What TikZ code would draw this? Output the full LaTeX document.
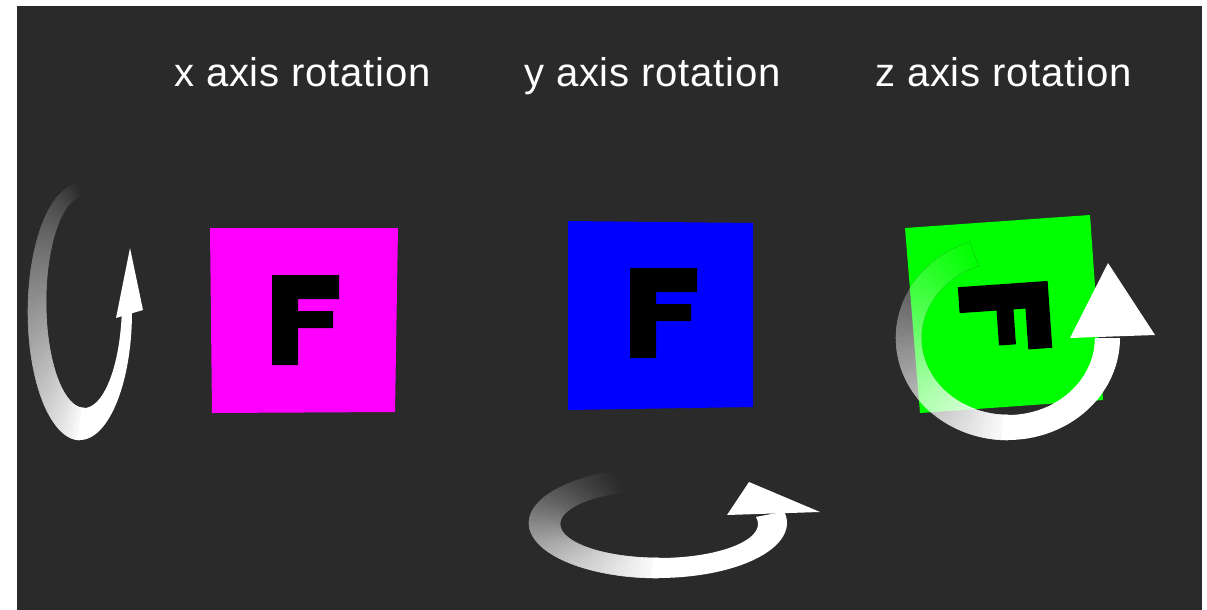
\documentclass[tikz,border=0pt]{standalone}
\usepackage{fontspec}
\setmainfont{Liberation Sans}
\usepackage{tikz}
\usetikzlibrary{calc}
\definecolor{cBg}{RGB}{42,42,42}
\definecolor{cMag}{RGB}{255,0,255}
\definecolor{cBlu}{RGB}{0,0,255}
\definecolor{cGrn}{RGB}{0,255,0}

\begin{document}
\begin{tikzpicture}[x=0.025cm,y=-0.025cm,
   lbl/.style={text=white,anchor=base,inner sep=0pt,
     font=\fontsize{28.5}{34}\selectfont\addfontfeature{LetterSpace=2}},
   seg/.style={line width=0.4pt,line join=round}]
 \useasboundingbox (0,0) rectangle (1207,610);
 \fill[white] (0,0) rectangle (1207,610);
 \fill[cBg] (17,6) rectangle (1202,610);
 % titles
 \node[lbl] (xlab) at (302.5,87) {x axis rotation};
 \node[lbl] (ylab) at (652.5,87) {y axis rotation};
 \node[lbl] (zlab) at (1003.5,87) {z axis rotation};
 % the three cards
 \fill[cMag] (210,228) -- (398,228) -- (395,412) -- (212,413) -- cycle;
 \fill[cBlu] (568,221) -- (753,223) -- (753,407) -- (568,410) -- cycle;
 \fill[cGrn] (905,228) -- (1090,215) -- (1103,400) -- (920,413) -- cycle;
 \foreach \fx/\fy/\fr in {305/320/0, 663/313/0, 1005/317/-86}
   \fill[black,shift={(\fx,\fy)},rotate=\fr] (-33,-45) -- (34,-45) -- (34,-21)
     -- (-7,-21) -- (-7,-9) -- (28,-9) -- (28,8) -- (-7,8) -- (-7,45) -- (-33,45) -- cycle;
 % rotation rings: faded tail mixed into what lies below, then solid part
 \foreach \cx/\cy/\rx/\ry/\dx/\dy/\irx/\iry/\ts/\te/\under/\clipit in
   {80/312/52/128/4/-10/38/106/268/0/cBg/0, 658/523/129/55/1/1/99/34/250/-12/cBg/0,
    1008/338/112/102/0/0/87/77/250/0/cBg/0, 1008/338/112/102/0/0/87/77/250/0/cGrn/1} {
   \begin{scope}
   \ifnum\clipit=1 \clip (905,228) -- (1090,215) -- (1103,400) -- (920,413) -- cycle; \fi
   \pgfmathsetmacro\tn{\ts-2}
   \foreach \t in {\ts,\tn,...,92} {
     \pgfmathsetmacro\pc{100*min(1,(\ts-\t+1)/(\ts-90))}
     \filldraw[seg,fill=white!\pc!\under,draw=white!\pc!\under]
       ({\cx+\rx*cos(\t)},{\cy+\ry*sin(\t)})
       -- ({\cx+\rx*cos(\t-2)},{\cy+\ry*sin(\t-2)})
       -- ({\cx+\dx+\irx*cos(\t-2)},{\cy+\dy+\iry*sin(\t-2)})
       -- ({\cx+\dx+\irx*cos(\t)},{\cy+\dy+\iry*sin(\t)}) -- cycle;
   }
   \fill[white] plot[domain=93:\te,samples=30,variable=\a] ({\cx+\rx*cos(\a)},{\cy+\ry*sin(\a)})
     -- plot[domain=\te:93,samples=30,variable=\a] ({\cx+\dx+\irx*cos(\a)},{\cy+\dy+\iry*sin(\a)}) -- cycle;
   \end{scope}
 }
 % arrow heads
 \fill[white] (130,248) -- (116,318) -- (143,310) -- cycle;
 \fill[white] (749,482) -- (727,515) -- (820,512) -- cycle;
 \fill[white] (1108,263) -- (1070,338) -- (1155,335) -- cycle;
\end{tikzpicture}
\end{document}
